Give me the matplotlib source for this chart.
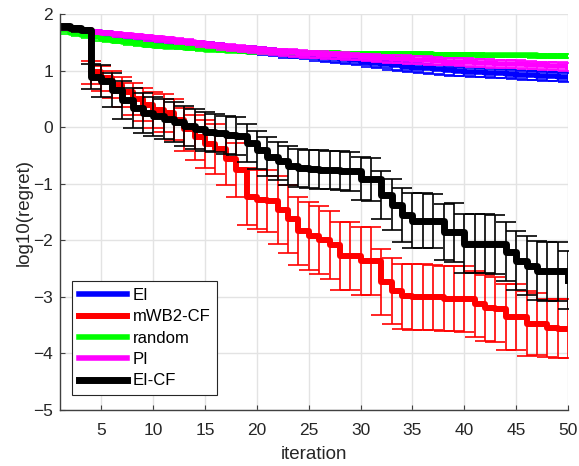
import numpy as np
import matplotlib.pyplot as plt

plt.rcParams['font.family'] = ['Liberation Sans', 'DejaVu Sans']

# iterations 1..50
it = np.arange(1, 51)

# log10(regret), mean values
ei = [1.76, 1.74, 1.71, 1.68, 1.66, 1.63, 1.61, 1.59, 1.57, 1.55,
      1.53, 1.51, 1.49, 1.47, 1.45, 1.43, 1.41, 1.39, 1.37, 1.35,
      1.33, 1.31, 1.29, 1.28, 1.26, 1.24, 1.22, 1.20, 1.18, 1.16,
      1.13, 1.11, 1.09, 1.07, 1.05, 1.04, 1.02, 1.01, 0.99, 0.98,
      0.97, 0.96, 0.95, 0.94, 0.93, 0.92, 0.91, 0.90, 0.89, 0.88]
ei_err = [0.02, 0.02, 0.03, 0.03, 0.03, 0.03, 0.04, 0.04, 0.04, 0.04,
          0.04, 0.05, 0.05, 0.05, 0.05, 0.05, 0.05, 0.05, 0.06, 0.06,
          0.06, 0.06, 0.06, 0.06, 0.06, 0.07, 0.07, 0.07, 0.07, 0.07,
          0.07, 0.07, 0.08, 0.08, 0.08, 0.08, 0.08, 0.08, 0.08, 0.08,
          0.08, 0.08, 0.08, 0.08, 0.08, 0.08, 0.08, 0.08, 0.08, 0.08]

mwb2 = [1.76, 1.74, 1.71, 0.97, 0.86, 0.75, 0.62, 0.50, 0.40, 0.30,
        0.25, 0.13, -0.04, -0.18, -0.30, -0.38, -0.56, -0.76, -1.23, -1.28,
        -1.30, -1.47, -1.62, -1.84, -1.92, -2.00, -2.09, -2.27, -2.28, -2.36,
        -2.37, -2.74, -2.90, -2.99, -3.00, -3.00, -3.01, -3.03, -3.03, -3.04,
        -3.12, -3.20, -3.22, -3.35, -3.36, -3.47, -3.48, -3.55, -3.56, -3.56]
mwb2_err = [0.03, 0.03, 0.03, 0.20, 0.22, 0.24, 0.26, 0.28, 0.30, 0.32,
            0.34, 0.36, 0.38, 0.40, 0.42, 0.44, 0.46, 0.48, 0.50, 0.52,
            0.55, 0.60, 0.60, 0.60, 0.60, 0.60, 0.60, 0.60, 0.60, 0.60,
            0.60, 0.58, 0.58, 0.58, 0.58, 0.58, 0.58, 0.58, 0.58, 0.58,
            0.58, 0.58, 0.58, 0.58, 0.58, 0.58, 0.55, 0.52, 0.52, 0.52]

rnd = [1.74, 1.66, 1.63, 1.60, 1.55, 1.53, 1.51, 1.48, 1.46, 1.44,
       1.42, 1.41, 1.40, 1.39, 1.37, 1.36, 1.35, 1.34, 1.33, 1.33,
       1.32, 1.32, 1.32, 1.31, 1.31, 1.31, 1.31, 1.30, 1.30, 1.30,
       1.30, 1.30, 1.29, 1.29, 1.29, 1.29, 1.28, 1.28, 1.28, 1.28,
       1.28, 1.27, 1.27, 1.27, 1.27, 1.27, 1.26, 1.26, 1.26, 1.26]
rnd_err = [0.02, 0.02, 0.02, 0.02, 0.02, 0.02, 0.02, 0.02, 0.02, 0.02,
           0.02, 0.02, 0.02, 0.02, 0.02, 0.02, 0.02, 0.02, 0.02, 0.02,
           0.02, 0.02, 0.02, 0.02, 0.02, 0.03, 0.03, 0.03, 0.03, 0.03,
           0.03, 0.03, 0.03, 0.03, 0.03, 0.03, 0.03, 0.03, 0.03, 0.03,
           0.03, 0.03, 0.03, 0.03, 0.03, 0.03, 0.03, 0.03, 0.03, 0.03]

pi = [1.76, 1.74, 1.72, 1.69, 1.67, 1.65, 1.63, 1.61, 1.59, 1.57,
      1.55, 1.53, 1.51, 1.49, 1.46, 1.44, 1.42, 1.40, 1.38, 1.36,
      1.35, 1.33, 1.32, 1.30, 1.29, 1.28, 1.27, 1.26, 1.25, 1.24,
      1.23, 1.22, 1.21, 1.20, 1.19, 1.18, 1.17, 1.16, 1.16, 1.15,
      1.14, 1.13, 1.12, 1.11, 1.11, 1.10, 1.09, 1.08, 1.08, 1.07]
pi_err = [0.02, 0.02, 0.02, 0.03, 0.03, 0.03, 0.03, 0.03, 0.04, 0.04,
          0.04, 0.04, 0.04, 0.04, 0.05, 0.05, 0.05, 0.05, 0.05, 0.05,
          0.05, 0.05, 0.06, 0.06, 0.06, 0.06, 0.06, 0.06, 0.06, 0.06,
          0.06, 0.06, 0.07, 0.07, 0.07, 0.07, 0.07, 0.07, 0.07, 0.07,
          0.07, 0.07, 0.07, 0.07, 0.07, 0.07, 0.07, 0.07, 0.07, 0.07]

eicf = [1.78, 1.75, 1.72, 0.89, 0.81, 0.66, 0.48, 0.34, 0.25, 0.19,
        0.14, 0.09, 0.02, -0.03, -0.08, -0.10, -0.14, -0.16, -0.28, -0.40,
        -0.52, -0.60, -0.68, -0.72, -0.74, -0.75, -0.76, -0.77, -0.78, -0.91,
        -0.92, -1.20, -1.37, -1.55, -1.65, -1.65, -1.66, -1.85, -1.86, -2.06,
        -2.06, -2.06, -2.07, -2.20, -2.36, -2.45, -2.54, -2.55, -2.55, -2.70]
eicf_err = [0.03, 0.03, 0.03, 0.22, 0.28, 0.30, 0.34, 0.35, 0.35, 0.35,
            0.35, 0.35, 0.35, 0.35, 0.35, 0.34, 0.34, 0.34, 0.34, 0.34,
            0.34, 0.34, 0.34, 0.34, 0.34, 0.34, 0.34, 0.34, 0.34, 0.38,
            0.38, 0.43, 0.45, 0.48, 0.48, 0.48, 0.48, 0.50, 0.52, 0.52,
            0.52, 0.52, 0.52, 0.52, 0.52, 0.52, 0.52, 0.52, 0.52, 0.52]

series = [
    (ei, ei_err, (0, 0, 1), 'EI', 4.0),
    (mwb2, mwb2_err, (1, 0, 0), 'mWB2-CF', 4.3),
    (rnd, rnd_err, (0, 1, 0), 'random', 4.0),
    (pi, pi_err, (1, 0, 1), 'PI', 4.0),
    (eicf, eicf_err, (0, 0, 0), 'EI-CF', 5.0),
]

fig = plt.figure(figsize=(5.79, 4.66), dpi=100)
ax = fig.add_axes([0.1036, 0.12, 0.8774, 0.85])

for y, e, c, name, lw in series:
    ax.errorbar(it, y, yerr=e, fmt='none', ecolor=c, elinewidth=1.2,
                capsize=7, capthick=1.2)
    ax.step(it, y, where='post', color=c, lw=lw, label=name)

ax.set_xlim(1, 50)
ax.set_ylim(-5, 2)
ax.set_xticks(np.arange(5, 51, 5))
ax.set_yticks(np.arange(-5, 3, 1))
ax.grid(True, color='#e3e3e3', lw=1)
ax.set_axisbelow(True)

for s in ['top', 'right']:
    ax.spines[s].set_visible(False)
for s in ['left', 'bottom']:
    ax.spines[s].set_color('#404040')
    ax.spines[s].set_linewidth(1.0)
ax.tick_params(direction='in', length=3.6, color='#404040',
               labelcolor='#262626', labelsize=12.5)
ax.tick_params(axis='x', pad=9)
ax.tick_params(axis='y', pad=5)

ax.set_xlabel('iteration', fontsize=13.5, color='#262626', labelpad=6)
ax.set_ylabel('log10(regret)', fontsize=13.5, color='#262626', labelpad=0)

leg = ax.legend(loc='lower left', bbox_to_anchor=(0.0236, 0.038),
                borderaxespad=0, fontsize=12, handlelength=2.9,
                handletextpad=0.35, labelspacing=0.38, borderpad=0.4,
                fancybox=False, framealpha=1, edgecolor='#262626')
leg.get_frame().set_linewidth(0.8)

fig.savefig('out.png', dpi=100)
